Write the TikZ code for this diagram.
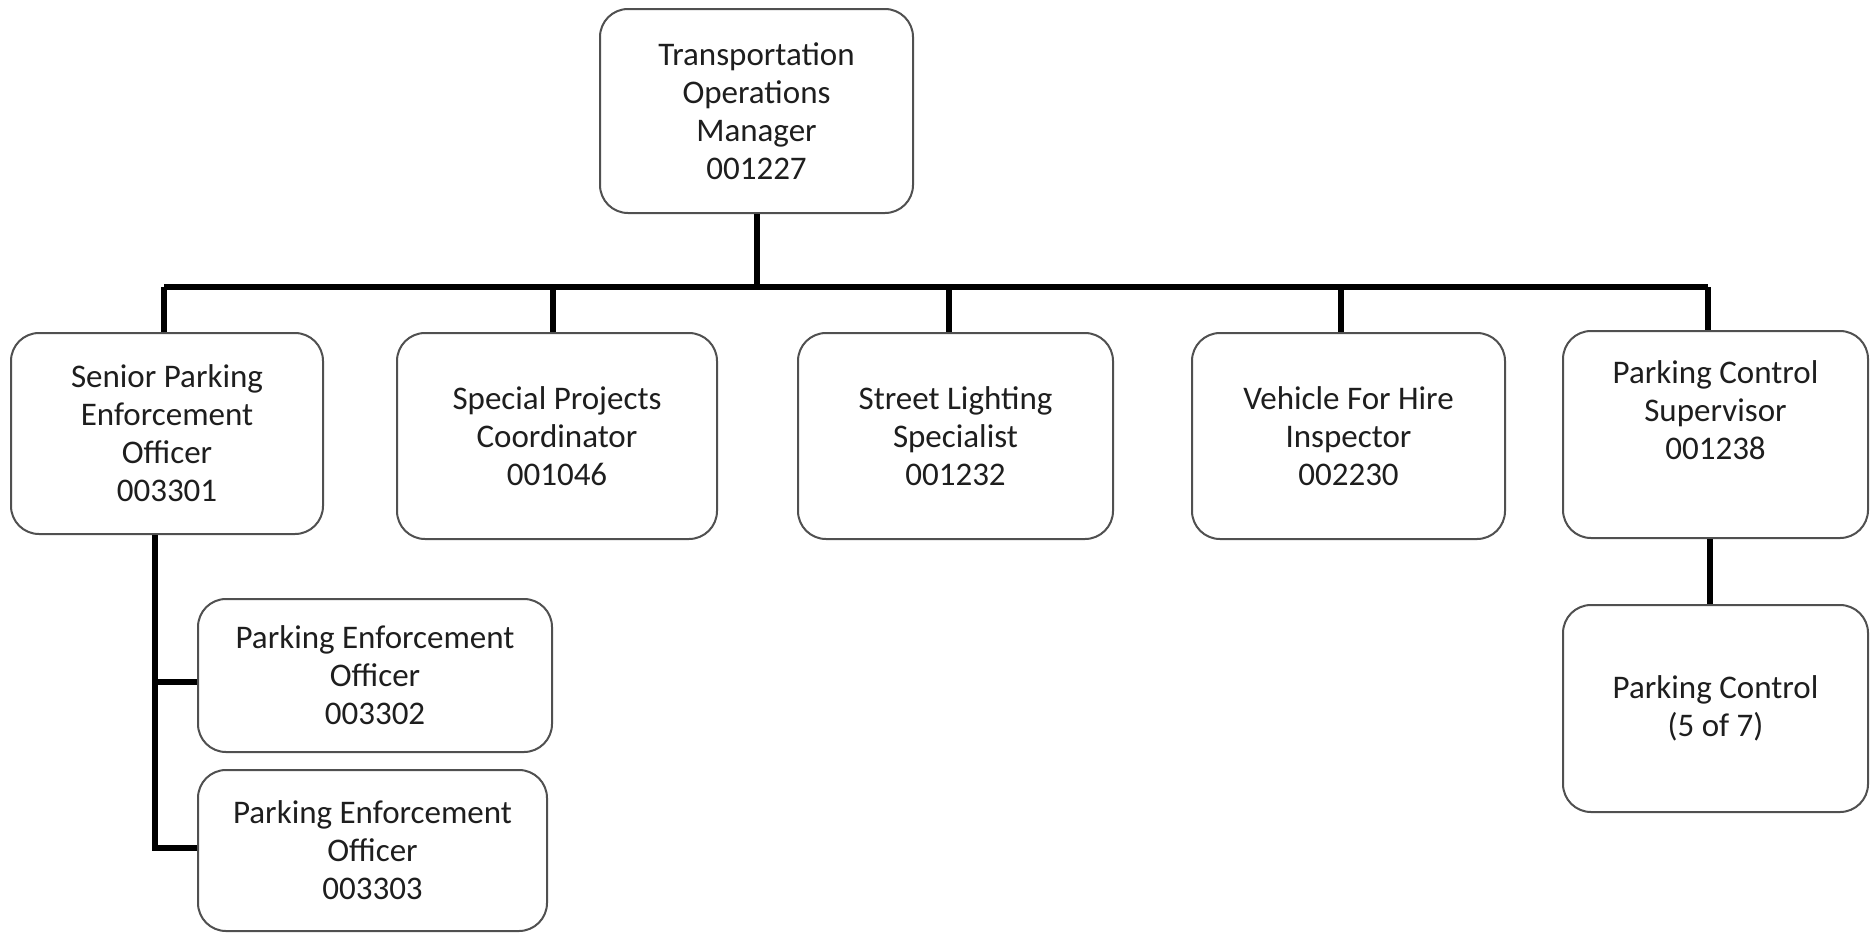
\documentclass[tikz,border=0pt]{standalone}
\usepackage{fontspec}
\setmainfont{Carlito}
\definecolor{boxline}{HTML}{505050}
\definecolor{txt}{HTML}{1E1E1E}
\tikzset{
  x=1pt, y=1pt,
  box/.style={draw=boxline, line width=2pt, rounded corners=28pt, fill=white,
    inner sep=0pt, align=center, text=txt,
    font=\fontsize{33}{38}\selectfont},
  conn/.style={draw=black, line width=6pt}
}
\begin{document}
\begin{tikzpicture}
\useasboundingbox (0,0) rectangle (1876,-935);
% nodes
\node[box, minimum width=313pt, minimum height=204pt] (top) at (756.5,-111) {Transportation\\Operations\\Manager\\001227};
\node[box, minimum width=312pt, minimum height=201pt] (sen) at (167,-433.5) {Senior Parking\\Enforcement\\Officer\\003301};
\node[box, minimum width=320pt, minimum height=206pt] (spc) at (557,-436) {Special Projects\\Coordinator\\001046};
\node[box, minimum width=315pt, minimum height=206pt] (slt) at (955.5,-436) {Street Lighting\\Specialist\\001232};
\node[box, minimum width=313pt, minimum height=206pt] (vfh) at (1348.5,-436) {Vehicle For Hire\\Inspector\\002230};
\node[box, minimum width=305pt, minimum height=207pt] (pcs) at (1715.5,-434.5) {Parking Control\\Supervisor\\001238\\\strut};
\node[box, minimum width=305pt, minimum height=207pt] (pc) at (1715.5,-708.5) {Parking Control\\(5 of 7)};
\node[box, minimum width=354pt, minimum height=153pt] (peo1) at (375,-675.5) {Parking Enforcement\\Officer\\003302};
\node[box, minimum width=349pt, minimum height=161pt] (peo2) at (372.5,-850.5) {Parking Enforcement\\Officer\\003303};
\coordinate (bar) at (757,-287);
\coordinate (senout) at ([xshift=-12pt]sen.south);
\coordinate (p1in) at ([yshift=-6.5pt]peo1.west);
\coordinate (p2in) at ([yshift=2.5pt]peo2.west);
% connectors
\draw[conn] ([xshift=0.5pt]top.south) -- ([xshift=0.5pt]top.south |- bar);
\draw[conn] ([xshift=-3pt]sen.north |- bar) -- ([xshift=-7.5pt]pcs.north |- bar);
\draw[conn] ([xshift=-3pt]sen.north |- bar) -- ([xshift=-3pt]sen.north);
\draw[conn] ([xshift=-4pt]spc.north |- bar) -- ([xshift=-4pt]spc.north);
\draw[conn] ([xshift=-6.5pt]slt.north |- bar) -- ([xshift=-6.5pt]slt.north);
\draw[conn] ([xshift=-7.5pt]vfh.north |- bar) -- ([xshift=-7.5pt]vfh.north);
\draw[conn] ([xshift=-7.5pt]pcs.north |- bar) -- ([xshift=-7.5pt]pcs.north);
\draw[conn] (senout) |- (p2in);
\draw[conn] (senout |- p1in) -- (p1in);
\draw[conn] ([xshift=-5.5pt]pcs.south) -- ([xshift=-5.5pt]pc.north);
\end{tikzpicture}
\end{document}
